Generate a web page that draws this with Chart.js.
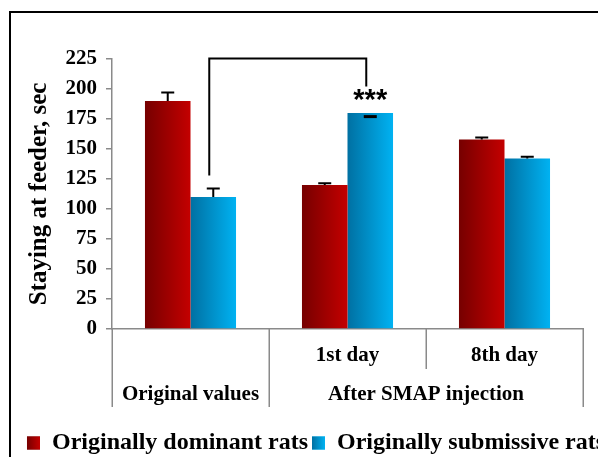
<!DOCTYPE html>
<html><head><meta charset="utf-8">
<script src="https://cdn.jsdelivr.net/npm/chart.js@4.4.1/dist/chart.umd.min.js"></script>
<style>
html,body{margin:0;padding:0;background:#fff;overflow:hidden;width:598px;height:457px;}
#frame{position:absolute;left:9px;top:11px;width:2000px;height:2000px;border:2px solid #000;box-sizing:border-box;}
#c{position:absolute;left:0;top:0;}
</style></head><body>
<div id="frame"></div>
<canvas id="c" width="632" height="465"></canvas>
<script>
// ---- data ----
const dayLabels = ['', '1st day', '8th day'];
const groupLabels = ['Original values', 'After SMAP injection'];
const groupCenters = [0.5, 2];
const yTicks = [0, 25, 50, 75, 100, 125, 150, 175, 200, 225];
const seriesNames = ['Originally dominant rats', 'Originally submissive rats'];
const dominant = [190, 120, 158];
const submissive = [110, 180, 142];
const dominantErr = [7, 1.5, 1.5];
const submissiveErr = [7, -3, 1.5];
const bracketFrom = 0, bracketTo = 1;
const bracketLevel = 225.5, bracketFromEnd = 128, bracketToEnd = 202;
const starsText = '***', starsCategory = 1, starsValue = 183;

// ---- style ----
const SERIF = '"Liberation Serif", "Times New Roman", serif';
const CAT_PCT = 0.58;
const AXIS_GRAY = '#8a8a8a';
const RED = ['#760000', '#c40000', '#a00000'];
const BLUE = ['#0070a2', '#00b2f2', '#0090c8'];

function grad(cols) {
  return (ctx) => {
    const chart = ctx.chart;
    const xs = chart.scales && chart.scales.x;
    if (ctx.type !== 'data' || !xs || !chart.chartArea) return cols[2];
    const slot = xs.width / dayLabels.length * CAT_PCT / 2;
    const c = xs.getPixelForValue(ctx.dataIndex);
    const left = c - slot + ctx.datasetIndex * slot;
    const g = chart.ctx.createLinearGradient(left, 0, left + slot, 0);
    g.addColorStop(0, cols[0]);
    g.addColorStop(1, cols[1]);
    return g;
  };
}

const extras = {
  id: 'extras',
  afterDatasetsDraw(chart) {
    const c = chart.ctx, ys = chart.scales.y;
    const errs = [dominantErr, submissiveErr];
    c.save();
    c.strokeStyle = '#000';
    chart.data.datasets.forEach((ds, di) => {
      const meta = chart.getDatasetMeta(di);
      meta.data.forEach((el, i) => {
        const v = ds.data[i], e = errs[di][i];
        const yv = ys.getPixelForValue(v), ye = ys.getPixelForValue(v + e);
        c.beginPath();
        if (e > 0) { c.moveTo(el.x, yv); c.lineTo(el.x, ye); }
        c.moveTo(el.x - 6.5, ye); c.lineTo(el.x + 6.5, ye);
        c.lineWidth = e > 0 ? 2 : 3;
        c.stroke();
      });
    });
    // significance bracket
    const m1 = chart.getDatasetMeta(1);
    const xa = m1.data[bracketFrom].x - 4, xb = m1.data[bracketTo].x - 4;
    c.lineWidth = 2;
    c.beginPath();
    c.moveTo(xa, ys.getPixelForValue(bracketFromEnd));
    c.lineTo(xa, ys.getPixelForValue(bracketLevel));
    c.lineTo(xb, ys.getPixelForValue(bracketLevel));
    c.lineTo(xb, ys.getPixelForValue(bracketToEnd));
    c.stroke();
    c.fillStyle = '#000';
    c.font = 'bold 29px "Liberation Sans", Arial, sans-serif';
    c.textAlign = 'center';
    c.textBaseline = 'alphabetic';
    c.fillText(starsText, m1.data[starsCategory].x, ys.getPixelForValue(starsValue));
    c.restore();
  },
  afterDraw(chart) {
    const c = chart.ctx, xs = chart.scales.x;
    const n = dayLabels.length, w = xs.width / n;
    c.save();
    c.strokeStyle = AXIS_GRAY;
    c.lineWidth = 1.5;
    c.beginPath();
    for (let i = 0; i <= n; i++) {
      const x = Math.round(xs.left + i * w) + 0.25;
      const long = (i === 0 || i === 1 || i === n);
      c.moveTo(x, xs.top);
      c.lineTo(x, long ? xs.bottom + 38 : xs.bottom);
    }
    c.stroke();
    // gradient legend boxes
    const hb = chart.legend.legendHitBoxes;
    [RED, BLUE].forEach((cols, i) => {
      const b = hb[i];
      if (!b) return;
      const y = b.top + (24 - 13) / 2;
      const g = c.createLinearGradient(b.left, 0, b.left + 13, 0);
      g.addColorStop(0, cols[0]); g.addColorStop(1, cols[1]);
      c.fillStyle = g;
      c.fillRect(b.left, y, 13, 13);
    });
    c.restore();
  }
};

new Chart(document.getElementById('c'), {
  type: 'bar',
  data: {
    labels: dayLabels,
    datasets: [
      { label: seriesNames[0], data: dominant, backgroundColor: grad(RED), borderWidth: 0,
        categoryPercentage: CAT_PCT, barPercentage: 1.0 },
      { label: seriesNames[1], data: submissive, backgroundColor: grad(BLUE), borderWidth: 0,
        categoryPercentage: CAT_PCT, barPercentage: 1.0 }
    ]
  },
  options: {
    responsive: false,
    animation: false,
    devicePixelRatio: 1,
    layout: { padding: { top: 59, left: 0, right: 0, bottom: 0 } },
    plugins: {
      tooltip: { enabled: false },
      legend: {
        position: 'bottom',
        labels: { boxWidth: 13, boxHeight: 13, padding: 4, color: '#000',
          font: { family: SERIF, size: 24, weight: 'bold' } }
      }
    },
    scales: {
      x: {
        type: 'category', offset: true, weight: 0,
        grid: { display: false, drawTicks: false },
        border: { display: true, color: AXIS_GRAY, width: 1.5 },
        ticks: { color: '#000', font: { family: SERIF, size: 21, weight: 'bold' }, padding: 14,
          maxRotation: 0, minRotation: 0, autoSkip: false },
        afterFit: s => { s.height = 40; }
      },
      x2: {
        type: 'linear', position: 'bottom', min: 0, max: 3, weight: 1, offset: false,
        grid: { display: false, drawTicks: false, offset: false },
        border: { display: false },
        afterBuildTicks: s => { s.ticks = groupCenters.map(v => ({ value: v })); },
        ticks: { color: '#000', font: { family: SERIF, size: 21, weight: 'bold' }, padding: 13,
          maxRotation: 0, minRotation: 0, autoSkip: false,
          callback: v => { const k = groupCenters.indexOf(v); return k >= 0 ? groupLabels[k] : ''; } },
        afterFit: s => { s.height = 58; }
      },
      y: {
        min: 0, max: 225,
        afterBuildTicks: s => { s.ticks = yTicks.map(v => ({ value: v })); },
        afterFit: s => { s.width = 112; },
        grid: { display: true, drawOnChartArea: false, drawTicks: true, tickLength: 6, color: AXIS_GRAY, lineWidth: 1.5 },
        border: { display: true, color: AXIS_GRAY, width: 1.5 },
        ticks: { color: '#000', font: { family: SERIF, size: 21, weight: 'bold' }, padding: 9 },
        title: { display: true, text: 'Staying at feeder, sec', color: '#000',
          font: { family: SERIF, size: 25, weight: 'bold' }, padding: { top: 25, bottom: 0 } }
      },
      y2: {
        position: 'right', display: true,
        grid: { display: false, drawTicks: false },
        border: { display: false },
        ticks: { display: false },
        afterFit: s => { s.width = 49; }
      }
    }
  },
  plugins: [extras]
});
</script>
</body></html>
